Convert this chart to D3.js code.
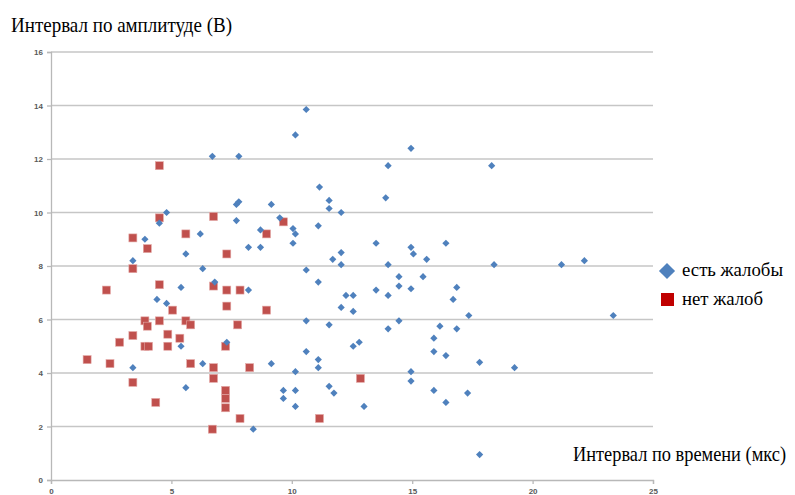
<!DOCTYPE html>
<html>
<head>
<meta charset="utf-8">
<script src="https://cdn.jsdelivr.net/npm/d3@7"></script>
<style>
  html, body { margin: 0; padding: 0; background: #fff; }
  svg { display: block; }
</style>
</head>
<body>
<svg id="chart" width="795" height="495"></svg>
<script>
// Complaints present: time interval (µs) and amplitude interval (V)
const complaintX = [6.7, 7.8, 4.8, 4.5, 7.7, 7.8, 7.7, 8.7, 3.9, 6.2, 8.2, 8.7, 3.4, 5.6, 6.3, 6.8, 5.4, 8.2, 4.4, 4.8,
  7.3, 5.4, 3.4, 6.3, 5.6, 8.4, 10.6, 10.15, 14.95, 14.0, 11.15, 11.55, 11.55, 12.05, 13.9, 9.15, 9.5, 10.05, 10.15, 11.1,
  10.05, 13.5, 14.95, 15.05, 15.6, 16.4, 11.7, 12.05, 12.05, 14.0, 10.6, 11.1, 14.45, 15.45, 14.45, 14.95, 13.5, 16.85, 12.25, 12.55,
  14.0, 16.7, 12.05, 12.55, 10.6, 11.55, 14.0, 14.45, 16.15, 16.85, 15.9, 15.9, 16.4, 12.55, 12.8, 10.6, 11.1, 11.1, 9.15, 10.15,
  14.95, 14.95, 9.65, 10.15, 9.65, 11.55, 11.75, 15.9, 16.4, 10.15, 13.0, 18.3, 18.4, 21.2, 22.15, 17.35, 23.35, 17.8, 19.25, 17.3, 17.8];
const complaintY = [12.1, 12.1, 10.0, 9.6, 10.3, 10.4, 9.7, 9.35, 9.0, 9.2, 8.7, 8.7, 8.2, 8.45, 7.9, 7.4, 7.2, 7.1, 6.75, 6.6,
  5.15, 5.0, 4.2, 4.35, 3.45, 1.9, 13.85, 12.9, 12.4, 11.75, 10.95, 10.45, 10.15, 10.0, 10.55, 10.3, 9.8, 9.4, 9.2, 9.5,
  8.85, 8.85, 8.7, 8.45, 8.25, 8.85, 8.25, 8.5, 8.05, 8.05, 7.85, 7.4, 7.6, 7.6, 7.25, 7.15, 7.1, 7.2, 6.9, 6.9,
  6.9, 6.75, 6.45, 6.3, 5.95, 5.8, 5.65, 5.95, 5.75, 5.65, 5.3, 4.8, 4.65, 5.0, 5.15, 4.8, 4.5, 4.2, 4.35, 4.05,
  4.05, 3.7, 3.35, 3.35, 3.05, 3.5, 3.25, 3.35, 2.9, 2.75, 2.75, 11.75, 8.05, 8.05, 8.2, 6.15, 6.15, 4.4, 4.2, 3.25, 0.95];

// No complaints
const noComplaintX = [4.5, 4.5, 6.75, 3.4, 4.0, 5.6, 7.3, 3.4, 2.3, 4.5, 6.75, 7.3, 7.85, 9.65, 8.95, 7.3, 5.05, 3.9, 4.5, 5.6,
  5.8, 4.0, 7.75, 2.85, 3.4, 4.85, 5.35, 7.25, 3.9, 4.05, 4.85, 1.5, 2.45, 5.8, 6.75, 8.25, 6.75, 3.4, 7.25, 7.25,
  7.25, 4.35, 7.85, 6.7, 8.95, 12.85, 11.15];
const noComplaintY = [11.75, 9.8, 9.85, 9.05, 8.65, 9.2, 8.45, 7.9, 7.1, 7.3, 7.25, 7.1, 7.1, 9.65, 9.2, 6.5, 6.35, 5.95, 5.95, 5.95,
  5.8, 5.75, 5.8, 5.15, 5.4, 5.45, 5.3, 5.0, 5.0, 5.0, 5.0, 4.5, 4.35, 4.35, 4.2, 4.2, 3.8, 3.65, 3.35, 3.05,
  2.7, 2.9, 2.3, 1.9, 6.35, 3.8, 2.3];

const xTicks = [0, 5, 10, 15, 20, 25];
const yTicks = [0, 2, 4, 6, 8, 10, 12, 14, 16];

const seriesNames = ["есть жалобы", "нет жалоб"];
const yTitle = "Интервал по амплитуде (В)";
const xTitle = "Интервал по времени (мкс)";

const blue = "#4f81bd";
const red = "#c0504d";

const svg = d3.select("#chart");
const x = d3.scaleLinear().domain([0, 25]).range([51, 653]);
const y = d3.scaleLinear().domain([0, 16]).range([480, 52]);

// horizontal gridlines
svg.append("g")
  .selectAll("line")
  .data(yTicks.filter(t => t > 0))
  .join("line")
  .attr("x1", x(0)).attr("x2", x(25))
  .attr("y1", d => y(d)).attr("y2", d => y(d))
  .attr("stroke", "#c6c6c6").attr("stroke-width", 1.3);

const tickFont = sel => sel
  .attr("fill", "#595959")
  .style("font-family", "'Liberation Sans', Arial, sans-serif")
  .style("font-size", "8px")
  .style("font-weight", "bold");

// y axis
const yAxis = svg.append("g")
  .attr("transform", `translate(${x(0)},0)`)
  .call(d3.axisLeft(y).tickValues(yTicks).tickSize(4).tickPadding(4));
yAxis.select(".domain").attr("stroke", "#b8b8b8").attr("stroke-width", 1.3);
yAxis.selectAll(".tick line").attr("stroke", "#b8b8b8").attr("stroke-width", 1.3);
yAxis.selectAll("text").call(tickFont);

// x axis
const xAxis = svg.append("g")
  .attr("transform", `translate(0,${y(0)})`)
  .call(d3.axisBottom(x).tickValues(xTicks).tickSize(4).tickPadding(4));
xAxis.select(".domain").attr("stroke", "#b8b8b8").attr("stroke-width", 1.3);
xAxis.selectAll(".tick line").attr("stroke", "#b8b8b8").attr("stroke-width", 1.3);
xAxis.selectAll("text").call(tickFont);

// no-complaint squares
const redPts = noComplaintX.map((v, i) => [v, noComplaintY[i]]);
svg.append("g")
  .selectAll("rect")
  .data(redPts)
  .join("rect")
  .attr("x", d => x(d[0]) - 4)
  .attr("y", d => y(d[1]) - 4)
  .attr("width", 8).attr("height", 8)
  .attr("fill", red)
  .attr("stroke", "#e3a8a6").attr("stroke-width", 0.6);

// complaint diamonds
const bluePts = complaintX.map((v, i) => [v, complaintY[i]]);
const diamond = d3.symbol().type(d3.symbolSquare).size(26);
svg.append("g")
  .selectAll("path")
  .data(bluePts)
  .join("path")
  .attr("d", diamond)
  .attr("transform", d => `translate(${x(d[0])},${y(d[1])}) rotate(45)`)
  .attr("fill", blue);

// axis titles: serif, stretched slightly taller than wide
const serif = "'Liberation Serif', 'Times New Roman', serif";
svg.append("text")
  .attr("transform", "translate(11,32) scale(1,1.15)")
  .attr("textLength", 221).attr("lengthAdjust", "spacingAndGlyphs")
  .style("font-family", serif).style("font-size", "18px")
  .attr("fill", "#000")
  .text(yTitle);
svg.append("text")
  .attr("transform", "translate(573,461) scale(1,1.15)")
  .attr("textLength", 213).attr("lengthAdjust", "spacingAndGlyphs")
  .style("font-family", serif).style("font-size", "18px")
  .attr("fill", "#000")
  .text(xTitle);

// legend
const legend = svg.append("g");
legend.append("path")
  .attr("d", d3.symbol().type(d3.symbolSquare).size(130))
  .attr("transform", "translate(667,271) rotate(45)")
  .attr("fill", blue);
legend.append("rect")
  .attr("x", 661).attr("y", 293).attr("width", 13).attr("height", 13)
  .attr("fill", "#c00000");
const legendWidths = [101, 81];
legend.selectAll("text.lg")
  .data(seriesNames)
  .join("text")
  .attr("class", "lg")
  .attr("transform", (d, i) => `translate(682,${276 + i * 28.5}) scale(1,1.1)`)
  .attr("textLength", (d, i) => legendWidths[i]).attr("lengthAdjust", "spacingAndGlyphs")
  .style("font-family", serif).style("font-size", "18px")
  .attr("fill", "#000")
  .text(d => d);
</script>
</body>
</html>
